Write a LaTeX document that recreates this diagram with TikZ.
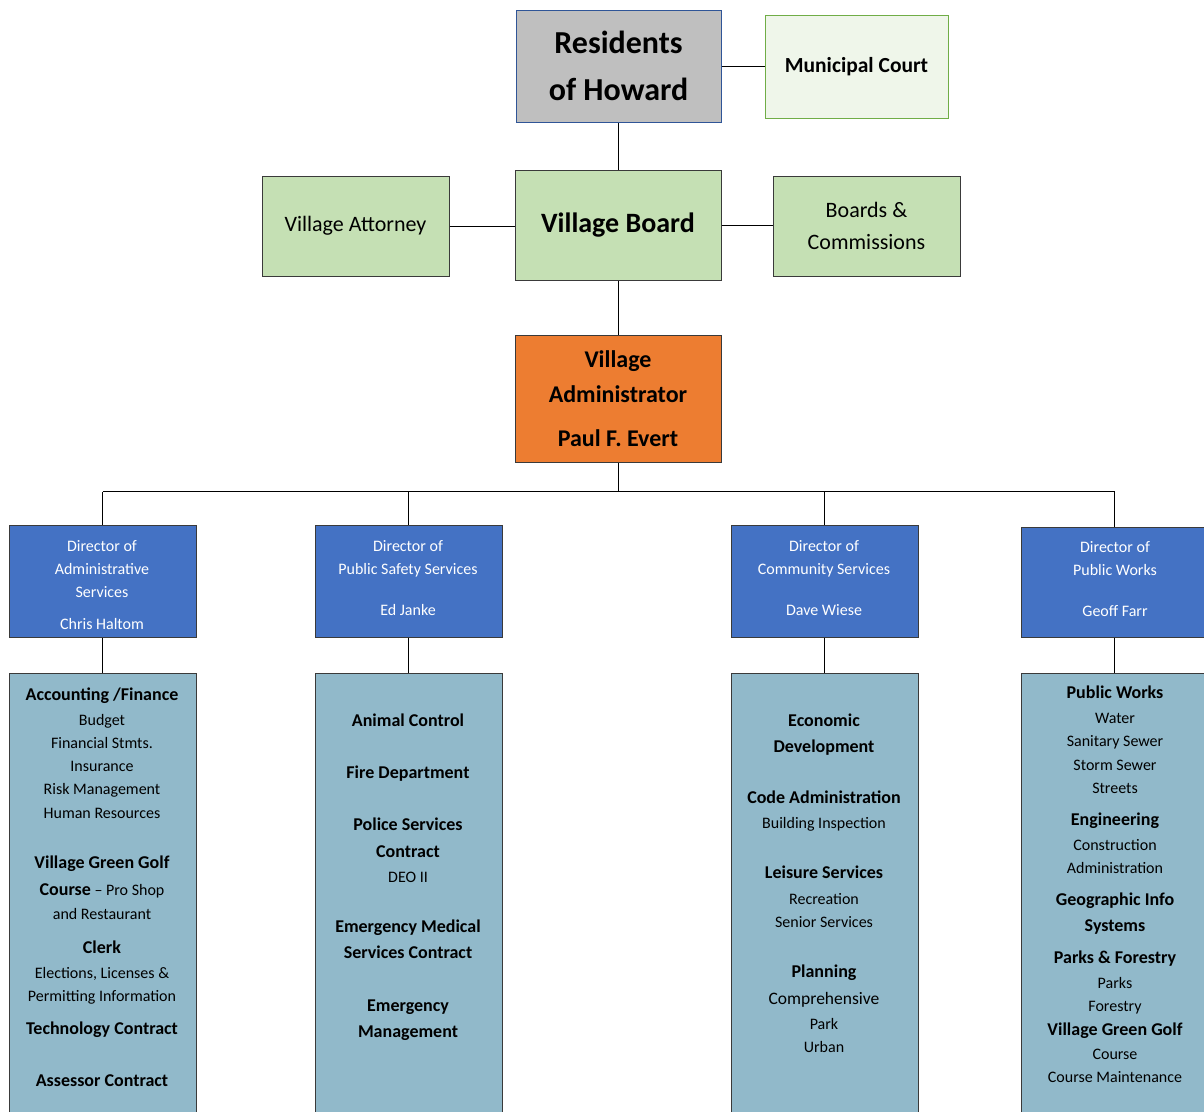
\documentclass[tikz,border=0pt]{standalone}
\usepackage{fontspec}
\setmainfont{Carlito}
\definecolor{residgray}{HTML}{BFBFBF}
\definecolor{residedge}{HTML}{2F5597}
\definecolor{courtfill}{HTML}{EFF6EA}
\definecolor{courtedge}{HTML}{70AD47}
\definecolor{boardgreen}{HTML}{C5E0B4}
\definecolor{adminorange}{HTML}{ED7D31}
\definecolor{dirblue}{HTML}{4472C4}
\definecolor{deptblue}{HTML}{91B9CA}
\definecolor{edgedark}{HTML}{3A3A3A}
\tikzset{
  box/.style={draw=edgedark, line width=1pt, inner sep=0pt, align=center, text=black},
  dirbox/.style={box, fill=dirblue, minimum width=187pt, minimum height=112pt},
  deptbox/.style={box, fill=deptblue, minimum width=187pt, minimum height=442pt},
  conn/.style={draw=black, line width=1pt},
  tb/.style={anchor=mid, yshift=-4pt, inner sep=0pt, font=\fontsize{18}{20}\selectfont\bfseries},
  tr/.style={anchor=mid, yshift=-4pt, inner sep=0pt, font=\fontsize{16}{18}\selectfont},
  tc/.style={anchor=mid, yshift=-4pt, inner sep=0pt, font=\fontsize{17.5}{19}\selectfont},
  tw/.style={anchor=mid, yshift=-4pt, inner sep=0pt, text=white, font=\fontsize{16}{18}\selectfont},
}
\begin{document}
\begin{tikzpicture}[x=1pt,y=1pt]
\useasboundingbox (0,0) rectangle (1204,-1111);
\clip (0,0) rectangle (1204,-1111);

% top boxes
\node[box, draw=residedge, fill=residgray, minimum width=205pt, minimum height=112pt,
      font=\fontsize{32}{47}\selectfont\bfseries] (res) at (618.5,-66) {Residents\\of Howard};
\node[box, draw=courtedge, fill=courtfill, minimum width=183pt, minimum height=103pt,
      font=\fontsize{21.5}{26}\selectfont\bfseries] (court) at (856.5,-66.5) {Municipal Court};
\node[box, fill=boardgreen, minimum width=187pt, minimum height=100pt,
      font=\fontsize{22}{26}\selectfont] (atty) at (355.5,-226) {\raisebox{2pt}{Village Attorney}};
\node[box, fill=boardgreen, minimum width=206pt, minimum height=110pt,
      font=\fontsize{28}{32}\selectfont\bfseries] (vb) at (618,-225) {\raisebox{3pt}{Village Board}};
\node[box, fill=boardgreen, minimum width=187pt, minimum height=100pt,
      font=\fontsize{22}{32}\selectfont] (bc) at (866.5,-226) {Boards \&\\Commissions};
\node[box, fill=adminorange, minimum width=206pt, minimum height=127pt,
      font=\fontsize{24}{35}\selectfont\bfseries] (adm) at (618,-398.5) {Village\\Administrator\\[9pt]Paul F. Evert};

% directors
\node[dirbox] (d1) at (102.5,-581) {};
\node[dirbox] (d2) at (408.5,-581) {};
\node[dirbox] (d3) at (824.5,-581) {};
\node[dirbox, minimum height=110pt] (d4) at (1114.5,-582) {};

% departments
\node[deptbox] (p1) at (102.5,-894) {};
\node[deptbox] (p2) at (408.5,-894) {};
\node[deptbox] (p3) at (824.5,-894) {};
\node[deptbox] (p4) at (1114.5,-894) {};

% connectors
\coordinate (bus) at (618,-491.5);
\draw[conn] (res.east) -- (res.east -| court.west);
\draw[conn] (vb.north -| res.south) -- (res.south);
\draw[conn] (atty.east) -- (atty.east -| vb.west);
\draw[conn] (vb.east) -- (vb.east -| bc.west);
\draw[conn] (vb.south) -- (adm.north);
\draw[conn] (adm.south) -- (bus);
\draw[conn] (d1.north |- bus) -- (d4.north |- bus);
\draw[conn] (d1.north) -- (d1.north |- bus);
\draw[conn] (d2.north) -- (d2.north |- bus);
\draw[conn] (d3.north) -- (d3.north |- bus);
\draw[conn] (d4.north) -- (d4.north |- bus);
\draw[conn] (d1.south) -- (p1.north);
\draw[conn] (d2.south) -- (p2.north);
\draw[conn] (d3.south) -- (p3.north);
\draw[conn] (d4.south) -- (p4.north);

% director texts
\foreach \y/\s/\t in {545/tw/Director of, 568/tw/Administrative, 591/tw/Services, 623/tw/Chris Haltom}
  \node[\s] (dt1-\y) at (102,-\y) {\t};
\foreach \y/\s/\t in {545/tw/Director of, 568/tw/Public Safety Services, 609/tw/Ed Janke}
  \node[\s] (dt2-\y) at (408,-\y) {\t};
\foreach \y/\s/\t in {545/tw/Director of, 568/tw/Community Services, 609/tw/Dave Wiese}
  \node[\s] (dt3-\y) at (824,-\y) {\t};
\foreach \y/\s/\t in {546/tw/Director of, 569/tw/Public Works, 610/tw/Geoff Farr}
  \node[\s] (dt4-\y) at (1115,-\y) {\t};

% department texts
\foreach \y/\s/\t in {694/tb/{Accounting /Finance}, 719/tr/Budget, 742/tr/Financial Stmts.,
  765/tr/Insurance, 788/tr/Risk Management, 812/tr/Human Resources,
  862/tb/Village Green Golf,
  889/tr/{{\fontsize{18}{20}\selectfont\bfseries Course} – Pro Shop},
  913/tr/and Restaurant, 947/tb/Clerk, 972/tr/{Elections, Licenses \&},
  995/tr/Permitting Information, 1028/tb/Technology Contract, 1080/tb/Assessor Contract}
  \node[\s] (t1-\y) at (102,-\y) {\t};
\foreach \y/\s/\t in {720/tb/Animal Control, 772/tb/Fire Department, 824/tb/Police Services,
  851/tb/Contract, 876/tr/DEO II, 926/tb/Emergency Medical, 952/tb/Services Contract,
  1005/tb/Emergency, 1031/tb/Management}
  \node[\s] (t2-\y) at (408,-\y) {\t};
\foreach \y/\s/\t in {720/tb/Economic, 746/tb/Development, 797/tb/Code Administration,
  822/tr/Building Inspection, 872/tb/Leisure Services, 898/tr/Recreation,
  921/tr/Senior Services, 971/tb/Planning, 998/tc/Comprehensive, 1023/tr/Park, 1046/tr/Urban}
  \node[\s] (t3-\y) at (824,-\y) {\t};
\foreach \y/\s/\t in {692/tb/Public Works, 717/tr/Water, 740/tr/Sanitary Sewer,
  764/tr/Storm Sewer, 787/tr/Streets, 819/tb/Engineering, 844/tr/Construction,
  867/tr/Administration, 899/tb/Geographic Info, 925/tb/Systems,
  957/tb/Parks \& Forestry, 982/tr/Parks, 1005/tr/Forestry,
  1029/tb/Village Green Golf, 1053/tr/Course, 1076/tr/Course Maintenance}
  \node[\s] (t4-\y) at (1115,-\y) {\t};
\end{tikzpicture}
\end{document}
